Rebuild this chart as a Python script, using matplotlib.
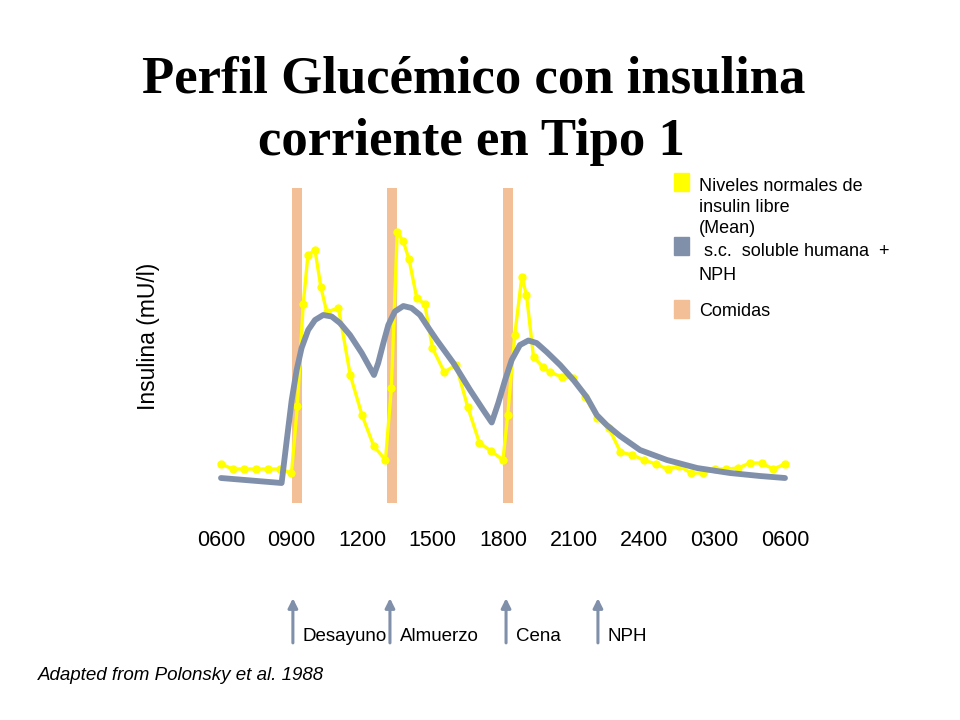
import matplotlib
matplotlib.use("Agg")
import matplotlib.pyplot as plt
from matplotlib.patches import Rectangle

plt.rcParams["font.family"] = ["Liberation Sans", "DejaVu Sans"]

# Hours after 06:00 and insulin (mU/l)
free_hours = [0, 0.5, 1, 1.5, 2, 2.5, 3, 3.25, 3.5, 3.7, 4, 4.25, 4.5, 5, 5.5, 6, 6.5, 7,
              7.25, 7.5, 7.75, 8, 8.33, 8.67, 9, 9.5, 10, 10.5, 11, 11.5, 12, 12.2, 12.5,
              12.8, 13, 13.3, 13.7, 14, 14.5, 15, 15.5, 16, 16.5, 17, 17.5, 18, 18.5, 19,
              19.5, 20, 20.5, 21, 21.5, 22, 22.5, 23, 23.5, 24]
free_insulin = [10.2, 9.2, 9.2, 9.2, 9.2, 9.2, 8.4, 21.8, 42.2, 52.0, 53.0, 45.6, 40.6, 41.4,
                28.0, 20.0, 13.8, 11.0, 25.4, 56.6, 54.8, 51.2, 43.4, 42.2, 33.4, 28.6, 30.0,
                21.6, 14.4, 12.8, 11.0, 20.0, 36.0, 47.6, 44.0, 31.6, 29.6, 28.6, 27.6, 27.4,
                23.6, 19.4, 17.4, 12.6, 12.0, 11.0, 10.2, 9.2, 9.8, 8.4, 8.4, 9.2, 9.2, 9.4,
                10.4, 10.4, 9.2, 10.2]

sc_hours = [0, 2.58, 2.80, 3.01, 3.22, 3.43, 3.71, 4.00, 4.35, 4.71, 5.06, 5.49, 5.99,
            6.51, 6.69, 6.91, 7.12, 7.40, 7.76, 8.11, 8.47, 8.89, 9.18, 9.89, 10.60, 11.16,
            11.52, 11.80, 12.09, 12.37, 12.72, 13.08, 13.43, 13.86, 14.43, 15.0, 15.56,
            15.99, 16.41, 16.98, 17.83, 18.98, 20.26, 21.66, 22.94, 24.0]
sc_insulin = [7.4, 6.4, 15.0, 23.0, 29.0, 33.4, 37.0, 39.0, 40.0, 39.7, 38.4, 36.0, 32.4,
              28.0, 30.4, 34.4, 38.0, 40.7, 41.8, 41.4, 40.0, 37.0, 35.0, 30.4, 25.0, 21.0,
              18.5, 22.4, 27.0, 31.0, 34.0, 34.9, 34.4, 32.6, 30.0, 27.0, 23.6, 20.0, 18.0,
              15.8, 13.0, 11.0, 9.4, 8.4, 7.8, 7.4]

meal_hours = [3.23, 7.28, 12.21]
meal_low, meal_high = 2.4, 65.4

tick_hours = [0, 3, 6, 9, 12, 15, 18, 21, 24]
tick_labels = ["0600", "0900", "1200", "1500", "1800", "2100", "2400", "0300", "0600"]

arrow_hours = [3.06, 7.19, 12.13, 16.04]
arrow_labels = ["Desayuno", "Almuerzo", "Cena", "NPH"]

yellow = "#FFFF00"
slate = "#8190AA"
peach = "#F2BF96"

fig = plt.figure(figsize=(9.6, 7.2), dpi=100)
ax = fig.add_axes([0.2057, 0.2847, 0.6365, 0.4653])

# meal bars
ax.bar(meal_hours, [meal_high - meal_low] * len(meal_hours), bottom=meal_low,
       width=0.43, color=peach, zorder=1)

ax.plot(free_hours, free_insulin, color=yellow, lw=2.4, marker="o", ms=6,
        markeredgewidth=0, zorder=2)
ax.plot(sc_hours, sc_insulin, color=slate, lw=4.2, solid_capstyle="round",
        solid_joinstyle="round", zorder=3)

ax.set_xlim(-1, 25)
ax.set_ylim(0, 67)
ax.set_xticks(tick_hours)
ax.set_xticklabels(tick_labels, fontsize=15.5)
ax.tick_params(axis="x", length=0, pad=11)
ax.set_yticks([])
for s in ax.spines.values():
    s.set_visible(False)

# arrows under the axis
trans = ax.get_xaxis_transform()
for h, lab in zip(arrow_hours, arrow_labels):
    ax.annotate("", xy=(h, -0.24), xytext=(h, -0.39), xycoords=trans,
                textcoords=trans, annotation_clip=False,
                arrowprops=dict(arrowstyle="-|>", color=slate, lw=2.2,
                                mutation_scale=14))
    ax.annotate(lab, xy=(h, -0.364), xycoords=trans, xytext=(7, 0),
                textcoords="offset points", ha="left", va="center",
                fontsize=13.5, annotation_clip=False)

# title
fig.text(0.493, 0.871, "Perfil Glucémico con insulina", ha="center", va="baseline",
         fontsize=38, fontweight="bold", family="Liberation Serif")
fig.text(0.491, 0.785, "corriente en Tipo 1", ha="center", va="baseline",
         fontsize=38, fontweight="bold", family="Liberation Serif")

fig.text(148 / 960, 1 - 336 / 720, "Insulina (mU/l)", rotation=90, ha="center",
         va="center", fontsize=16.5)

# legend drawn by hand
for ytop, col in [(173, yellow), (237, slate), (300, peach)]:
    fig.patches.append(Rectangle((674 / 960, 1 - (ytop + 18) / 720), 15 / 960, 18 / 720,
                                 transform=fig.transFigure, color=col))
fig.text(699 / 960, 1 - 178 / 720, "Niveles normales de\ninsulin libre\n(Mean)",
         ha="left", va="top", fontsize=13, linespacing=1.32)
fig.text(699 / 960, 1 - 243 / 720, " s.c.  soluble humana  +\nNPH",
         ha="left", va="top", fontsize=13, linespacing=1.5)
fig.text(699 / 960, 1 - 311 / 720, "Comidas", ha="left", va="center", fontsize=13)

fig.text(38 / 960, 1 - 675 / 720, "Adapted from Polonsky et al. 1988", ha="left",
         va="center", fontsize=13.5, style="italic")

fig.savefig("out.png", dpi=100)
